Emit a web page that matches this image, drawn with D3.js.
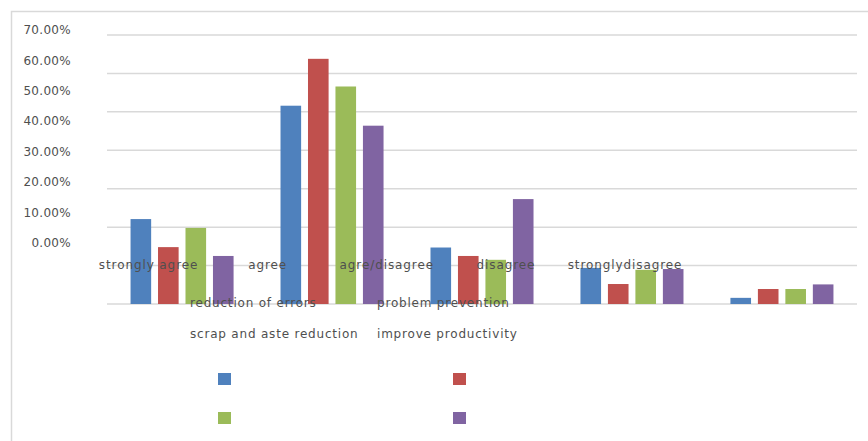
<!DOCTYPE html>
<html>
<head>
<meta charset="utf-8">
<script src="https://cdn.jsdelivr.net/npm/d3@7"></script>
<style>
	body { margin: 0; background: #fff; }
	svg { display: block; }
	text { font-family: "DejaVu Sans", sans-serif; fill: #4f4f4f; }
</style>
</head>
<body>
<div id="chart"></div>
<script>
// categories on the x axis (labels as shown in the sheet)
const categories = ['strongly agree', 'agree', 'agre/disagree', 'disagree', 'stronglydisagree'];
const seriesNames = ['reduction of errors', 'problem prevention', 'scrap and aste reduction', 'improve productivity'];
const seriesColors = ['#4f81bd', '#c0504d', '#9bbb59', '#8064a2'];

// values per series, one per category
const reductionOfErrors = [0.221, 0.516, 0.147, 0.094, 0.016];
const problemPrevention = [0.148, 0.638, 0.125, 0.052, 0.039];
const scrapReduction = [0.198, 0.566, 0.115, 0.089, 0.039];
const improveProductivity = [0.125, 0.464, 0.273, 0.091, 0.051];

const yTicks = [0, 0.1, 0.2, 0.3, 0.4, 0.5, 0.6, 0.7];

const values = [reductionOfErrors, problemPrevention, scrapReduction, improveProductivity];

const W = 868, H = 441;

const svg = d3.select('#chart')
	.append('svg')
	.attr('width', W)
	.attr('height', H);

// chart frame (right and bottom run off the picture)
svg.append('path')
	.attr('d', `M${W + 5},11.5 H11.5 V${H + 5}`)
	.attr('fill', 'none')
	.attr('stroke', '#d9d9d9')
	.attr('stroke-width', 1.5);

const x = d3.scaleBand()
	.domain(categories)
	.range([107, 857])
	.paddingInner(0.313)
	.paddingOuter(0.157);

const xs = d3.scaleBand()
	.domain(d3.range(seriesNames.length))
	.range([0, x.bandwidth()])
	.paddingInner(0.25);

const y = d3.scaleLinear()
	.domain([0, 0.7])
	.range([304, 35]);

// tick text sits on its own (squeezed) scale, as in the original picture
const yLabel = d3.scaleLinear()
	.domain([0, 0.7])
	.range([243, 30]);

const xLabel = d3.scaleBand()
	.domain(categories)
	.range([89, 684.6]);

// gridlines
svg.append('g')
	.selectAll('line')
	.data(yTicks)
	.enter()
	.append('line')
	.attr('x1', 107)
	.attr('x2', 857)
	.attr('y1', d => y(d))
	.attr('y2', d => y(d))
	.attr('stroke', '#d9d9d9')
	.attr('stroke-width', 1.5);

// bars
const groups = svg.append('g')
	.selectAll('g')
	.data(values)
	.enter()
	.append('g')
	.attr('fill', (d, i) => seriesColors[i]);

groups.each(function(vals, s) {
	d3.select(this)
		.selectAll('rect')
		.data(vals)
		.enter()
		.append('rect')
		.attr('x', (d, i) => x(categories[i]) + xs(s))
		.attr('width', xs.bandwidth())
		.attr('y', d => y(d))
		.attr('height', d => y(0) - y(d));
});

// y tick labels
svg.append('g')
	.selectAll('text')
	.data(yTicks)
	.enter()
	.append('text')
	.attr('x', 71)
	.attr('y', d => yLabel(d))
	.attr('dy', '0.35em')
	.attr('text-anchor', 'end')
	.style('font-size', '12px')
	.style('letter-spacing', '0.3px')
	.text(d => d3.format('.2%')(d));

// category labels
svg.append('g')
	.selectAll('text')
	.data(categories)
	.enter()
	.append('text')
	.attr('x', d => xLabel(d) + xLabel.bandwidth() / 2)
	.attr('y', 265)
	.attr('dy', '0.35em')
	.attr('text-anchor', 'middle')
	.style('font-size', '12px')
	.style('letter-spacing', '0.9px')
	.text(d => d);

// series names, laid out two by two
const nameCols = [190, 377];
const nameRows = [303, 334];
svg.append('g')
	.selectAll('text')
	.data(seriesNames)
	.enter()
	.append('text')
	.attr('x', (d, i) => nameCols[i % 2])
	.attr('y', (d, i) => nameRows[Math.floor(i / 2)])
	.attr('dy', '0.35em')
	.style('font-size', '12px')
	.style('letter-spacing', '0.8px')
	.text(d => d);

// legend swatches without text
const keyCols = [218, 453];
const keyRows = [373, 412];
svg.append('g')
	.selectAll('rect')
	.data(seriesColors)
	.enter()
	.append('rect')
	.attr('x', (d, i) => keyCols[i % 2])
	.attr('y', (d, i) => keyRows[Math.floor(i / 2)])
	.attr('width', 13)
	.attr('height', 12)
	.attr('fill', d => d);
</script>
</body>
</html>
